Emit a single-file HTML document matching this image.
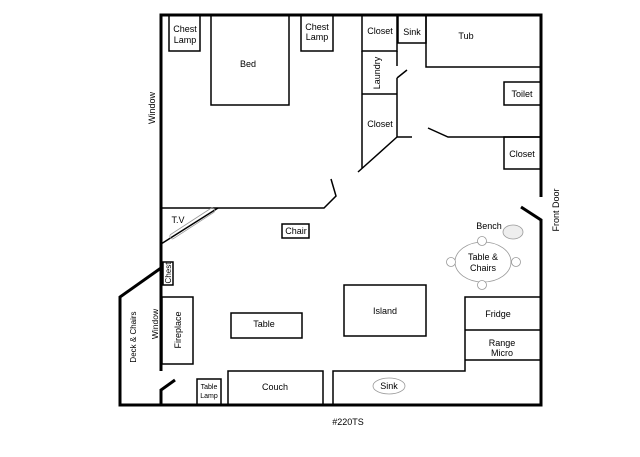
<!DOCTYPE html>
<html><head><meta charset="utf-8"><style>body{margin:0;background:#fff}svg{display:block}text{font-family:"Liberation Sans",sans-serif;font-size:9px;fill:#000}</style></head>
<body>
<svg width="640" height="457" viewBox="0 0 640 457" xmlns="http://www.w3.org/2000/svg">
<g fill="none" stroke="#000">
<path d="M161,371 V15 H541 V197" stroke-width="3"/>
<path d="M521,207 L541,220 V405 H120 V297 L161,268" stroke-width="3"/>
<path d="M161,405 V390 L175,380" stroke-width="3"/>
<g stroke-width="1.5">
<rect x="169" y="15" width="31" height="36"/>
<rect x="211" y="15" width="78" height="90"/>
<rect x="301" y="15" width="32" height="36"/>
<rect x="362" y="15" width="35" height="36"/>
<rect x="398" y="15" width="28" height="28"/>
<path d="M426,15 V67 H541"/>
<path d="M362,51 V168"/>
<path d="M362,94 H397 M397,51 V66 M397,78 L407,70 M397,78 V137 H412 M397,137 L358,172"/>
<path d="M428,128 L448,137 H541"/>
<rect x="504" y="82" width="37" height="23"/>
<rect x="504" y="137" width="37" height="32"/>
<path d="M161,208 H324 L336,196 L331,179"/>
<path d="M161,244 L218,208"/>
<rect x="282" y="224" width="27" height="14"/>
<rect x="163" y="262" width="10" height="23"/>
<rect x="162" y="297" width="31" height="67"/>
<rect x="231" y="313" width="71" height="25"/>
<rect x="344" y="285" width="82" height="51"/>
<rect x="228" y="371" width="95" height="34"/>
<rect x="197" y="379" width="24" height="26"/>
<path d="M333,405 V371 H465 V297 H541 M465,330 H541 M465,360 H541"/>
</g>
<g stroke="#999" stroke-width="0.8">
<rect x="166" y="221" width="52" height="5" rx="2" transform="rotate(-33 192 223)"/>
<ellipse cx="389" cy="386" rx="16" ry="8"/>
<ellipse cx="483" cy="262" rx="28" ry="20"/>
<circle cx="482" cy="241" r="4.5" fill="#fff"/>
<circle cx="482" cy="285" r="4.5" fill="#fff"/>
<circle cx="451" cy="262" r="4.5" fill="#fff"/>
<circle cx="516" cy="262" r="4.5" fill="#fff"/>
<ellipse cx="513" cy="232" rx="10" ry="7" fill="#eee"/>
</g>
</g>
<g text-anchor="middle">
<text x="185" y="32">Chest</text><text x="185" y="43">Lamp</text>
<text x="248" y="67">Bed</text>
<text x="317" y="30">Chest</text><text x="317" y="40">Lamp</text>
<text x="380" y="34">Closet</text>
<text x="412" y="35">Sink</text>
<text x="466" y="39">Tub</text>
<text x="380" y="127">Closet</text>
<text x="522" y="97">Toilet</text>
<text x="522" y="157">Closet</text>
<text x="178" y="223">T.V</text>
<text x="296" y="234">Chair</text>
<text x="489" y="229">Bench</text>
<text x="483" y="260">Table &amp;</text><text x="483" y="271">Chairs</text>
<text x="264" y="327">Table</text>
<text x="385" y="314">Island</text>
<text x="498" y="317">Fridge</text>
<text x="502" y="346">Range</text><text x="502" y="356">Micro</text>
<text x="275" y="390">Couch</text>
<text x="389" y="389">Sink</text>
<text x="209" y="389" style="font-size:7px">Table</text><text x="209" y="398" style="font-size:7px">Lamp</text>
<text x="348" y="425">#220TS</text>
<text transform="translate(155,108) rotate(-90)">Window</text>
<text transform="translate(380,73) rotate(-90)">Laundry</text>
<text transform="translate(171,273) rotate(-90)" style="font-size:8px">Chest</text>
<text transform="translate(181,330) rotate(-90)">Fireplace</text>
<text transform="translate(158,324) rotate(-90)" style="font-size:8.5px">Window</text>
<text transform="translate(136,337) rotate(-90)" style="font-size:8px">Deck &amp; Chairs</text>
<text transform="translate(559,210) rotate(-90)">Front Door</text>
</g>
</svg>
</body></html>
